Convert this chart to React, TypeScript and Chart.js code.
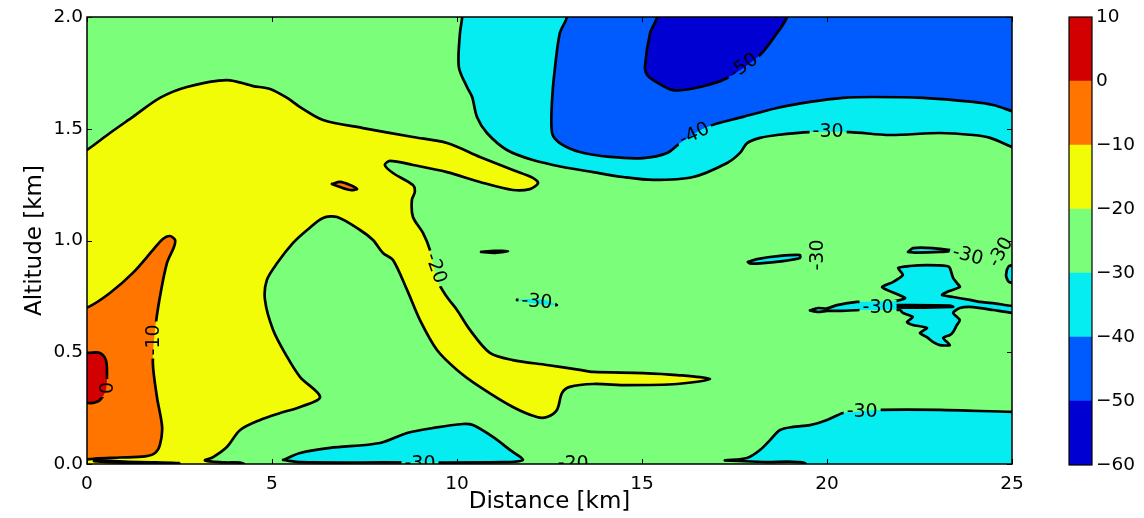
import { useEffect, useRef } from "react";
import { Chart, registerables } from "chart.js";

Chart.register(...registerables);
Chart.defaults.font.family = "'DejaVu Sans'";

type Pt = [number, number];

// Temperature levels (°C) bounding the filled bands, and the band colours (jet)
const levels = [-60, -50, -40, -30, -20, -10, 0, 10];
const bandColors = ["#0000d2", "#005bff", "#06edf1", "#7bff7b", "#f1fc06", "#ff7500", "#d20000"];

// Axis ranges and tick spacing
const distanceRange: Pt = [0, 25];
const altitudeRange: Pt = [0, 2];
const distanceStep = 5;
const altitudeStep = 0.5;

// Band outlines: [distance km, altitude km]
const domain: Pt[] = [[-1, -1], [26, -1], [26, 3], [-1, 3], [-1, -1]];

const warm20: Pt[] = [
  [-0.6, 1.37], [-0.19, 1.391], [0, 1.405], [0.62, 1.481], [1.24, 1.553], [1.97, 1.638], [2.7, 1.687],
  [3.78, 1.718], [4.49, 1.691], [4.95, 1.678], [5.41, 1.638], [5.76, 1.597], [6.38, 1.539], [7.46, 1.503],
  [8.81, 1.463], [9.73, 1.436], [10.62, 1.374], [11.51, 1.315], [12.05, 1.28], [12.19, 1.257], [11.97, 1.23],
  [11.51, 1.226], [10.62, 1.262], [9.73, 1.306], [8.81, 1.338], [8.19, 1.356], [8.05, 1.338], [8.27, 1.302],
  [8.81, 1.248], [8.86, 1.217], [8.78, 1.181], [8.81, 1.105], [9.08, 1.034], [9.27, 0.957], [9.46, 0.823],
  [9.73, 0.747], [10.0, 0.689], [10.35, 0.6], [10.89, 0.497], [11.51, 0.465], [12.43, 0.443], [13.32, 0.421],
  [13.68, 0.412], [15.03, 0.407], [15.95, 0.398], [16.84, 0.38], [15.95, 0.358], [14.59, 0.353], [13.68, 0.358],
  [13.05, 0.345], [12.84, 0.318], [12.7, 0.242], [12.43, 0.21], [12.16, 0.21], [11.51, 0.255], [10.62, 0.345],
  [10.0, 0.421], [9.46, 0.51], [9.0, 0.644], [8.65, 0.779], [8.27, 0.913], [8.0, 0.944], [7.73, 1.002],
  [7.38, 1.047], [6.76, 1.105], [6.38, 1.101], [5.95, 1.047], [5.57, 0.989], [5.14, 0.899], [4.86, 0.823],
  [4.81, 0.734], [5.03, 0.6], [5.41, 0.479], [5.76, 0.389], [6.3, 0.3], [5.76, 0.255], [5.22, 0.228],
  [4.68, 0.197], [4.14, 0.152], [3.78, 0.076], [3.41, 0.031], [3.19, 0.016], [3.73, 0.007], [4.22, 0.002],
  [4.4, -0.05], [-0.6, -0.05], [-0.6, 1.37],
];

const warm10: Pt[] = [
  [-0.5, 0.68], [0.03, 0.702], [0.62, 0.765], [1.24, 0.855], [1.78, 0.957], [2.05, 1.007], [2.24, 1.02],
  [2.38, 1.002], [2.35, 0.971], [2.16, 0.899], [1.97, 0.747], [1.84, 0.6], [1.78, 0.452], [1.89, 0.3],
  [2.03, 0.166], [1.97, 0.085], [1.84, 0.049], [1.57, 0.034], [0.89, 0.029], [0.27, 0.025], [0.08, 0.022],
  [-0.5, 0.02], [-0.5, 0.68],
];

const warm0: Pt[] = [
  [-0.5, 0.5], [0.03, 0.497], [0.35, 0.497], [0.51, 0.465], [0.54, 0.407], [0.51, 0.331], [0.35, 0.286],
  [0.16, 0.273], [0.03, 0.273], [-0.5, 0.27], [-0.5, 0.5],
];

const warmSpeck: Pt[] = [[6.62, 1.253], [6.84, 1.262], [7.11, 1.248], [7.3, 1.23], [7.11, 1.226], [6.84, 1.239], [6.62, 1.253]];

const groundStreak: Pt[] = [[0.19, 0.018], [1.0, 0.011], [2.5, 0.004], [1.0, 0.006], [0.19, 0.013], [0.19, 0.018]];

const cold40: Pt[] = [
  [10.14, 2.1], [10.14, 2.0], [10.08, 1.928], [10.05, 1.776], [10.27, 1.687], [10.41, 1.642], [10.54, 1.553],
  [10.81, 1.481], [11.35, 1.405], [12.05, 1.36], [12.86, 1.329], [13.68, 1.306], [14.49, 1.284], [15.3, 1.271],
  [16.38, 1.284], [17.3, 1.347], [17.65, 1.392], [17.84, 1.436], [18.19, 1.459], [18.65, 1.472], [19.54, 1.485],
  [20.62, 1.485], [21.7, 1.472], [23.05, 1.481], [23.95, 1.472], [24.41, 1.459], [25.0, 1.418], [25.49, 1.383],
  [25.6, 2.1], [10.14, 2.1],
];

const cold50: Pt[] = [
  [12.97, 2.1], [12.97, 2.0], [12.78, 1.928], [12.65, 1.776], [12.57, 1.629], [12.57, 1.481], [12.78, 1.436],
  [13.32, 1.396], [14.14, 1.374], [15.03, 1.369], [15.68, 1.392], [16.03, 1.436], [16.76, 1.508], [17.73, 1.553],
  [18.65, 1.593], [19.54, 1.62], [20.43, 1.638], [21.24, 1.642], [22.59, 1.638], [23.95, 1.62], [24.49, 1.606],
  [25.0, 1.579], [25.49, 1.553], [25.6, 2.1], [12.97, 2.1],
];

const cold60: Pt[] = [
  [15.45, 2.1], [15.41, 2.0], [15.22, 1.928], [15.08, 1.776], [15.14, 1.74], [15.3, 1.718], [15.84, 1.673],
  [16.57, 1.687], [17.3, 1.727], [18.19, 1.83], [18.65, 1.928], [18.92, 2.0], [19.0, 2.1], [15.45, 2.1],
];

const coldGroundA: Pt[] = [
  [5.3, 0.018], [5.76, 0.049], [6.57, 0.072], [7.92, 0.094], [8.65, 0.139], [9.35, 0.161], [10.16, 0.179],
  [10.43, 0.174], [10.97, 0.121], [11.43, 0.063], [11.78, 0.018], [11.2, 0.008], [8.0, 0.007], [5.8, 0.008],
  [5.3, 0.018],
];

const coldGroundB: Pt[] = [
  [17.24, 0.016], [17.84, 0.027], [18.19, 0.063], [18.46, 0.107], [18.73, 0.152], [19.08, 0.166], [19.54, 0.174],
  [20.0, 0.197], [20.43, 0.228], [20.7, 0.233], [21.43, 0.242], [23.05, 0.242], [25.0, 0.233], [25.6, 0.233],
  [25.6, -0.05], [19.5, -0.05], [19.4, 0.004], [18.3, 0.009], [17.24, 0.016],
];

const coldWisp1: Pt[] = [[10.65, 0.949], [11.0, 0.954], [11.38, 0.952], [11.0, 0.945], [10.65, 0.949]];
const coldWisp2: Pt[] = [[11.62, 0.734], [11.97, 0.738], [12.38, 0.734], [12.7, 0.711], [12.38, 0.713], [11.97, 0.722], [11.62, 0.734]];
const coldWisp3: Pt[] = [[17.86, 0.904], [18.11, 0.917], [18.73, 0.931], [19.27, 0.935], [19.27, 0.922], [18.81, 0.908], [18.27, 0.899], [17.92, 0.897], [17.86, 0.904]];
const coldWisp4: Pt[] = [[22.19, 0.949], [22.32, 0.966], [22.86, 0.966], [23.41, 0.955], [23.05, 0.949], [22.38, 0.946], [22.19, 0.949]];
const coldWisp5: Pt[] = [[24.86, 0.868], [24.92, 0.886], [25.3, 0.895], [25.3, 0.81], [24.92, 0.814], [24.84, 0.841], [24.86, 0.868]];

const coldCloud: Pt[] = [
  [19.54, 0.687], [19.76, 0.698], [20.0, 0.696], [20.27, 0.711], [20.81, 0.725], [21.43, 0.727], [21.84, 0.729],
  [22.11, 0.743], [21.62, 0.779], [21.49, 0.792], [21.78, 0.814], [22.05, 0.846], [21.92, 0.877], [22.24, 0.886],
  [22.7, 0.89], [23.24, 0.886], [23.32, 0.877], [23.41, 0.832], [23.51, 0.81], [23.59, 0.792], [23.24, 0.77],
  [23.11, 0.756], [23.41, 0.747], [23.86, 0.734], [24.14, 0.725], [24.49, 0.72], [25.0, 0.707], [25.4, 0.707],
  [25.4, 0.671], [25.0, 0.676], [24.49, 0.689], [23.95, 0.702], [23.59, 0.698], [23.41, 0.676], [23.59, 0.644],
  [23.51, 0.622], [23.41, 0.591], [23.32, 0.577], [23.14, 0.564], [23.32, 0.532], [23.05, 0.532], [22.86, 0.546],
  [22.7, 0.568], [22.51, 0.586], [22.7, 0.609], [22.32, 0.622], [22.16, 0.635], [22.32, 0.658], [22.05, 0.676],
  [21.97, 0.689], [21.43, 0.689], [20.89, 0.689], [20.35, 0.685], [20.0, 0.685], [19.76, 0.68], [19.54, 0.687],
];

const cloudStreak: Pt[] = [[21.89, 0.711], [23.32, 0.709], [23.41, 0.703], [21.89, 0.701], [21.89, 0.711]];

// Painting order, bottom to top; band = index into bandColors
const regions: { pts: Pt[]; band: number; tension?: number; outline?: boolean }[] = [
  { pts: domain, band: 3, tension: 0, outline: false },
  { pts: warm20, band: 4 },
  { pts: warm10, band: 5 },
  { pts: warm0, band: 6 },
  { pts: warmSpeck, band: 5 },
  { pts: groundStreak, band: 4, tension: 0.2 },
  { pts: cold40, band: 2 },
  { pts: cold50, band: 1 },
  { pts: cold60, band: 0 },
  { pts: coldGroundA, band: 2 },
  { pts: coldGroundB, band: 2 },
  { pts: coldWisp1, band: 2, tension: 0.2 },
  { pts: coldWisp2, band: 2, tension: 0.2 },
  { pts: coldWisp3, band: 2, tension: 0.2 },
  { pts: coldWisp4, band: 2, tension: 0.2 },
  { pts: coldWisp5, band: 2, tension: 0.2 },
  { pts: coldCloud, band: 2, tension: 0.2 },
  { pts: cloudStreak, band: 3, tension: 0.2 },
];

// Inline contour labels: position (km), text, rotation (deg, clockwise)
const contourLabels: { x: number; y: number; text: string; rot: number }[] = [
  { x: 17.73, y: 1.781, text: "-50", rot: -35 },
  { x: 16.41, y: 1.478, text: "-40", rot: -25 },
  { x: 20.03, y: 1.488, text: "-30", rot: 0 },
  { x: 9.44, y: 0.877, text: "-20", rot: 70 },
  { x: 1.78, y: 0.555, text: "-10", rot: -90 },
  { x: 0.54, y: 0.34, text: "0", rot: -90 },
  { x: 9.0, y: 0.004, text: "-30", rot: 0 },
  { x: 13.14, y: 0.004, text: "-20", rot: 0 },
  { x: 12.16, y: 0.729, text: "-30", rot: 5 },
  { x: 19.73, y: 0.935, text: "-30", rot: -90 },
  { x: 21.38, y: 0.702, text: "-30", rot: 0 },
  { x: 23.81, y: 0.935, text: "-30", rot: 15 },
  { x: 24.68, y: 0.949, text: "-30", rot: -60 },
  { x: 20.95, y: 0.237, text: "-30", rot: 0 },
];

const labelFont = "19px 'DejaVu Sans'";
const tickFont = { family: "'DejaVu Sans'", size: 18.5 };
const titleFont = { family: "'DejaVu Sans'", size: 23 };

const toXY = (pts: Pt[]) => pts.map(([x, y]) => ({ x, y }));

const contourDecor = {
  id: "contourDecor",
  beforeDatasetsDraw(chart: any) {
    const ctx = chart.ctx;
    ctx.save();
    ctx.font = labelFont;
    chart.$gaps = contourLabels.map((l) => ({
      cx: chart.scales.x.getPixelForValue(l.x),
      cy: chart.scales.y.getPixelForValue(l.y),
      a: (l.rot * Math.PI) / 180,
      w: ctx.measureText(l.text).width + 6,
      h: 14,
    }));
    ctx.restore();
  },
  beforeDatasetDraw(chart: any, args: any) {
    const ds = chart.data.datasets[args.index];
    if (!ds.contourLine) return;
    const ctx = chart.ctx;
    ctx.save();
    ctx.beginPath();
    ctx.rect(0, 0, chart.width, chart.height);
    for (const g of chart.$gaps || []) {
      const c = Math.cos(g.a);
      const s = Math.sin(g.a);
      const corners = [[-g.w / 2, -g.h / 2], [g.w / 2, -g.h / 2], [g.w / 2, g.h / 2], [-g.w / 2, g.h / 2]];
      corners.forEach(([u, v], k) => {
        const px = g.cx + u * c - v * s;
        const py = g.cy + u * s + v * c;
        if (k) ctx.lineTo(px, py);
        else ctx.moveTo(px, py);
      });
      ctx.closePath();
    }
    ctx.clip("evenodd");
  },
  afterDatasetDraw(chart: any, args: any) {
    if (chart.data.datasets[args.index].contourLine) chart.ctx.restore();
  },
  afterDatasetsDraw(chart: any) {
    const ctx = chart.ctx;
    const { left, right, top, bottom } = chart.chartArea;
    ctx.save();
    ctx.beginPath();
    ctx.rect(left, top, right - left, bottom - top);
    ctx.clip();
    ctx.font = labelFont;
    ctx.fillStyle = "#000";
    ctx.textAlign = "center";
    ctx.textBaseline = "middle";
    for (const l of contourLabels) {
      ctx.save();
      ctx.translate(chart.scales.x.getPixelForValue(l.x), chart.scales.y.getPixelForValue(l.y));
      ctx.rotate((l.rot * Math.PI) / 180);
      ctx.fillText(l.text, 0, 1);
      ctx.restore();
    }
    ctx.restore();

    // frame and inward tick marks
    ctx.save();
    ctx.strokeStyle = "#000";
    ctx.lineWidth = 1;
    ctx.beginPath();
    const xs = chart.scales.x;
    const ys = chart.scales.y;
    xs.ticks.forEach((t: any) => {
      const p = Math.round(xs.getPixelForValue(t.value)) + 0.5;
      ctx.moveTo(p, bottom);
      ctx.lineTo(p, bottom - 5);
      ctx.moveTo(p, top);
      ctx.lineTo(p, top + 5);
    });
    ys.ticks.forEach((t: any) => {
      const p = Math.round(ys.getPixelForValue(t.value)) + 0.5;
      ctx.moveTo(left, p);
      ctx.lineTo(left + 5, p);
      ctx.moveTo(right, p);
      ctx.lineTo(right - 5, p);
    });
    ctx.stroke();
    ctx.lineWidth = 1.5;
    ctx.strokeRect(left, top, right - left, bottom - top);
    ctx.restore();
  },
};

const barFrame = {
  id: "barFrame",
  afterDatasetsDraw(chart: any) {
    const { left, right, top, bottom } = chart.chartArea;
    const ctx = chart.ctx;
    ctx.save();
    ctx.strokeStyle = "#000";
    ctx.lineWidth = 1.2;
    ctx.strokeRect(left, top, right - left, bottom - top);
    ctx.restore();
  },
};

export default function App() {
  const mainRef = useRef<HTMLCanvasElement>(null);
  const barRef = useRef<HTMLCanvasElement>(null);

  useEffect(() => {
    const fills = regions.map((r) => ({
      data: toXY(r.pts),
      showLine: true,
      pointRadius: 0,
      pointHoverRadius: 0,
      borderWidth: 0,
      borderColor: "rgba(0,0,0,0)",
      backgroundColor: bandColors[r.band],
      fill: "shape",
      tension: r.tension ?? 0.3,
      capBezierPoints: false,
      clip: 0,
    }));
    const lines = regions
      .filter((r) => r.outline !== false)
      .map((r) => ({
        data: toXY(r.pts),
        showLine: true,
        pointRadius: 0,
        pointHoverRadius: 0,
        borderWidth: 2.7,
        borderColor: "#000",
        borderJoinStyle: "round",
        borderCapStyle: "round",
        fill: false,
        tension: r.tension ?? 0.3,
        capBezierPoints: false,
        clip: 0,
        contourLine: true,
      }));
    // first dataset is drawn on top
    const datasets = [...fills, ...lines].reverse();

    const main = new Chart(mainRef.current as HTMLCanvasElement, {
      type: "scatter",
      data: { datasets: datasets as any },
      options: {
        responsive: false,
        animation: false,
        devicePixelRatio: 1,
        events: [],
        layout: { padding: { left: 0, top: 17, right: 132, bottom: 0 } },
        plugins: { legend: { display: false }, tooltip: { enabled: false } },
        scales: {
          x: {
            type: "linear",
            min: distanceRange[0],
            max: distanceRange[1],
            ticks: { stepSize: distanceStep, color: "#000", font: tickFont, padding: 9, maxRotation: 0 },
            grid: { display: false, drawTicks: false },
            border: { display: false },
            title: { display: true, text: "Distance [km]", color: "#000", font: titleFont, padding: { top: 0, bottom: 2 } },
            afterFit: (s: any) => {
              s.height = 54;
              s.paddingLeft = 0;
              s.paddingRight = 0;
            },
          },
          y: {
            type: "linear",
            min: altitudeRange[0],
            max: altitudeRange[1],
            ticks: {
              stepSize: altitudeStep,
              color: "#000",
              font: tickFont,
              padding: 4,
              callback: (v: any) => Number(v).toFixed(1),
            },
            grid: { display: false, drawTicks: false },
            border: { display: false },
            title: { display: true, text: "Altitude [km]", color: "#000", font: titleFont, padding: { top: 21, bottom: 0 } },
            afterFit: (s: any) => {
              s.width = 87;
              s.paddingTop = 0;
              s.paddingBottom = 0;
            },
          },
        },
      } as any,
      plugins: [contourDecor],
    });

    const bar = new Chart(barRef.current as HTMLCanvasElement, {
      type: "bar",
      data: {
        labels: [""],
        datasets: bandColors.map((c, i) => ({
          data: [[levels[i], levels[i + 1]]],
          backgroundColor: c,
          borderWidth: 0,
          grouped: false,
          barPercentage: 1,
          categoryPercentage: 1,
        })) as any,
      },
      options: {
        responsive: false,
        animation: false,
        devicePixelRatio: 1,
        events: [],
        layout: { padding: { left: 9, top: 17, right: 0, bottom: 53 } },
        plugins: { legend: { display: false }, tooltip: { enabled: false } },
        scales: {
          x: { display: false },
          y: {
            position: "right",
            min: levels[0],
            max: levels[levels.length - 1],
            ticks: {
              stepSize: 10,
              color: "#000",
              font: tickFont,
              padding: 4,
              callback: (v: any) => (Number(v) < 0 ? "\u2212" + Math.abs(Number(v)) : String(v)),
            },
            grid: { display: false, drawTicks: false },
            border: { display: false },
            afterFit: (s: any) => {
              s.width = 52;
            },
          },
        },
      } as any,
      plugins: [barFrame],
    });

    return () => {
      main.destroy();
      bar.destroy();
    };
  }, []);

  return (
    <div style={{ position: "fixed", left: 0, top: 0, width: 1144, height: 518, background: "#fff" }}>
      <canvas ref={mainRef} width={1144} height={518} style={{ position: "absolute", left: 0, top: 0, width: 1144, height: 518 }} />
      <canvas ref={barRef} width={84} height={518} style={{ position: "absolute", left: 1060, top: 0, width: 84, height: 518 }} />
    </div>
  );
}
